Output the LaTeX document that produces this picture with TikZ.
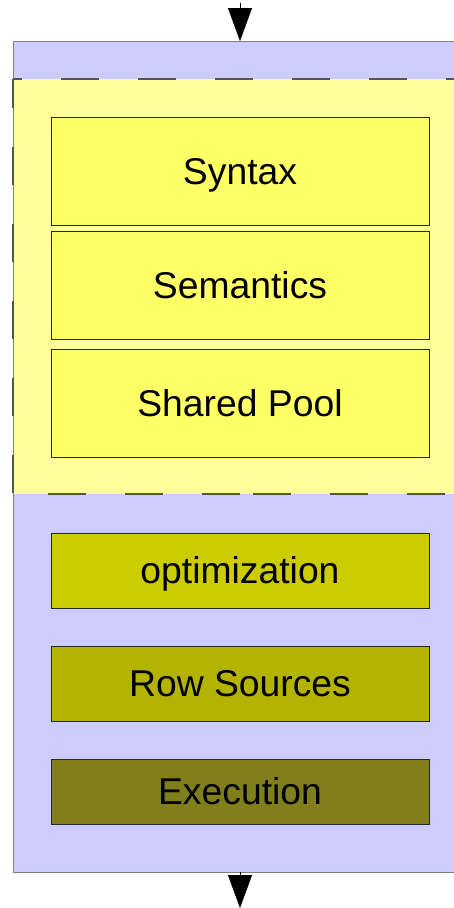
\documentclass[tikz,border=0pt]{standalone}
\usepackage{fontspec}
\setmainfont{Liberation Sans}
\usetikzlibrary{arrows.meta}
\definecolor{bgblue}{HTML}{CCCCFF}
\definecolor{regyel}{HTML}{FFFF99}
\definecolor{boxyel}{HTML}{FFFF66}
\definecolor{optcol}{HTML}{CCCC00}
\definecolor{rowcol}{HTML}{B3B300}
\definecolor{execol}{HTML}{807F1C}
\definecolor{framegray}{HTML}{808080}
\definecolor{dashgray}{HTML}{555555}
\tikzset{
  stagebox/.style={draw=black!85, line width=0.9pt, rectangle, minimum width=378pt,
    inner sep=0pt, text height=26.5pt, text depth=0pt, font=\fontsize{37.3}{41}\selectfont},
  regdash/.style={draw=dashgray, line width=1.4pt, dash pattern=on 38pt off 39pt},
  flow/.style={draw=black, line width=0.8pt, -{Triangle[width=24pt,length=33pt]}},
}
\begin{document}
\begin{tikzpicture}[x=1pt,y=-1pt]
\useasboundingbox (0,0) rectangle (454,908);
\clip (0,0) rectangle (454,908);
% outer frame
\fill[bgblue] (13,41) rectangle (470,872);
\fill[regyel] (13,79) rectangle (470,494);
\draw[framegray, line width=1pt] (470,41) -- (13,41) -- (13,872) -- (470,872);
% dashed region borders
\draw[regdash, dash phase=29pt] (13,79) -- (454,79);
\draw[regdash, dash phase=9pt] (13,79) -- (13,494);
\draw[regdash] (48,494) -- (240,494);
\draw[regdash] (253,494) -- (454,494);
% stages
\node[stagebox, fill=boxyel, minimum height=108pt] (syntax) at (240,171) {Syntax};
\node[stagebox, fill=boxyel, minimum height=108pt] (semantics) at (240,285) {Semantics};
\node[stagebox, fill=boxyel, minimum height=108pt] (pool) at (240,403) {Shared Pool};
\node[stagebox, fill=optcol, minimum height=75pt] (opt) at (240,570.5) {optimization};
\node[stagebox, fill=rowcol, minimum height=75pt] (rows) at (240,683.5) {Row Sources};
\node[stagebox, fill=execol, minimum height=65pt] (exec) at (240,791.5) {Execution};
% in/out arrows
\coordinate (instart) at (240,3);
\coordinate (frametop) at (240,41);
\coordinate (framebot) at (240,872);
\coordinate (outend) at (240,908);
\draw[flow] (instart) -- (frametop);
\draw[flow] (framebot) -- (outend);
\end{tikzpicture}
\end{document}
